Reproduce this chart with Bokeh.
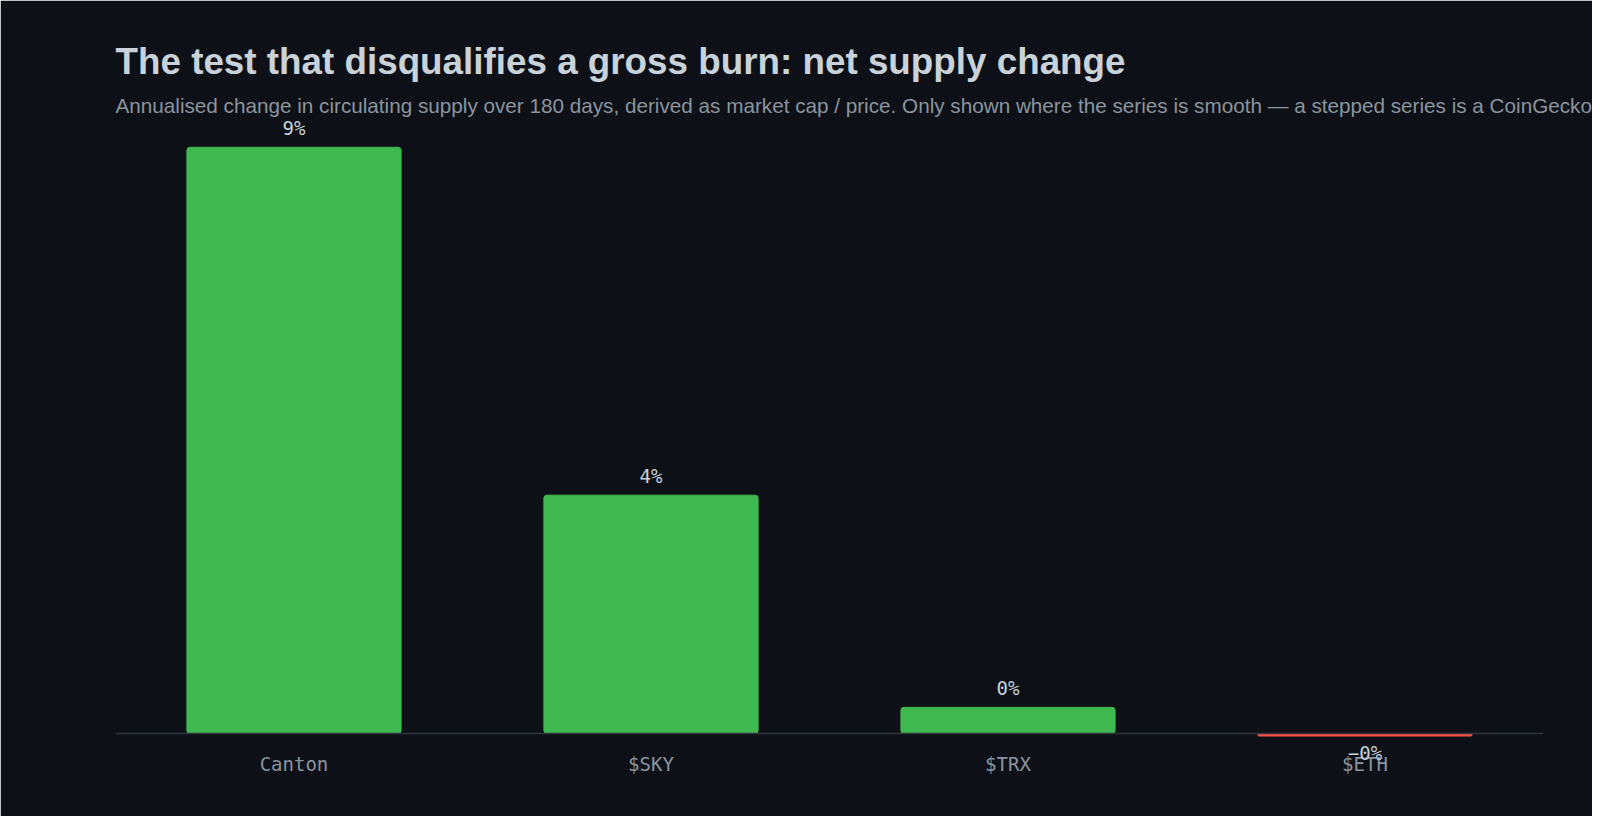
from bokeh.core.properties import value
from bokeh.embed import file_html
from bokeh.resources import INLINE
from bokeh.models import ColumnDataSource, LabelSet, Span, Title, Range1d
from bokeh.plotting import figure

# data
tokens = ["Canton", "$SKY", "$TRX", "$ETH"]
net_change = [9.2, 3.74, 0.41, -0.04]   # annualised % change in circulating supply

BG = "#0d1117"
GREEN = "#3fb950"
RED = "#f85149"

labels = [f"{v:.0f}%".replace("-", "\u2212") for v in net_change]
colors = [GREEN if v >= 0 else RED for v in net_change]
offsets = [19 if v >= 0 else -17 for v in net_change]

src = ColumnDataSource(dict(token=tokens, val=net_change, label=labels,
                            color=colors, off=offsets))

p = figure(x_range=tokens, y_range=Range1d(-0.738, 9.62),
           width=1592, height=816, output_backend="svg", toolbar_location=None,
           background_fill_color=BG, border_fill_color=BG,
           min_border_left=115, min_border_right=49, min_border_top=120,
           min_border_bottom=36)
# paint over the seam between frame and border fill
p.outline_line_color = BG
p.outline_line_width = 3

sub = Title(text="Annualised change in circulating supply over 180 days, derived as market cap / price. "
                 "Only shown where the series is smooth \u2014 a stepped series is a CoinGecko",
            text_font="Liberation Sans", text_font_size="20.7px", text_font_style="normal",
            text_color="#8b949e", align="left", offset=0, standoff=7)
p.add_layout(sub, "above")
main = Title(text="The test that disqualifies a gross burn: net supply change",
             text_font="Liberation Sans", text_font_size="36.8px", text_font_style="bold",
             text_color="#c9d1d9", align="left", offset=0, standoff=13)
p.add_layout(main, "above")

p.vbar(x="token", top="val", bottom=0, width=0.6, color="color", source=src,
       border_radius=3)

p.add_layout(Span(location=0, dimension="width", line_color="#30363d", line_width=1.5))

p.add_layout(LabelSet(x="token", y="val", text="label", y_offset="off", source=src,
                      text_align="center", text_baseline="middle",
                      text_font=value("DejaVu Sans Mono"), text_font_size=value("19px"),
                      text_color="#c9d1d9"))

p.xgrid.visible = False
p.ygrid.visible = False
p.yaxis.visible = False
p.xaxis.axis_line_color = None
p.xaxis.major_tick_line_color = None
p.xaxis.minor_tick_line_color = None
p.xaxis.major_tick_out = 0
p.xaxis.major_label_standoff = -28
p.xaxis.major_label_text_font = "DejaVu Sans Mono"
p.xaxis.major_label_text_font_size = "19px"
p.xaxis.major_label_text_color = "#8b949e"

open("out.html", "w").write(file_html(p, INLINE))
